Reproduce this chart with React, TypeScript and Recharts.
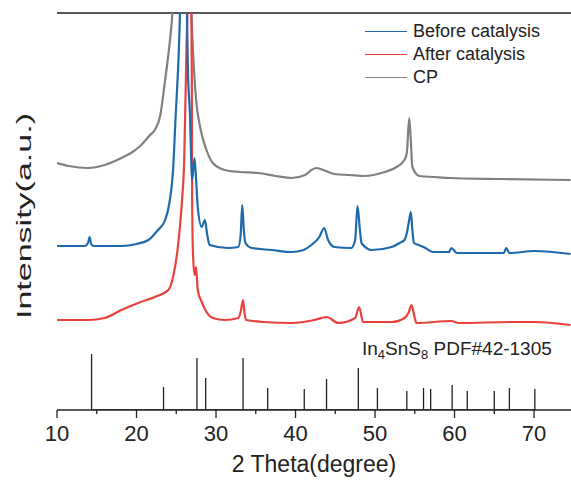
import { Legend, Line, LineChart, ReferenceLine, XAxis, YAxis } from "recharts";

// [2theta, intensity], intensity in a.u. (stacked offsets included)
const cpPattern: [number, number][] = [
  [10, 247], [11.5, 244], [13.9, 242], [16.0, 245], [18.1, 252], [19.5, 258],
  [20.6, 265], [21.7, 275], [22.3, 280], [23.0, 295], [23.6, 330], [24.0, 355],
  [24.3, 377], [24.5, 397], [24.6, 440], [26.8, 440], [26.9, 400], [27.1, 360],
  [27.5, 310], [28.0, 283], [28.8, 260], [29.6, 247], [31.1, 240], [33.0, 238],
  [35.3, 237], [37.5, 234], [39.5, 232], [41.2, 235], [42.0, 240], [42.6, 242],
  [43.5, 240], [44.9, 236], [46.8, 235], [48.7, 234], [51.2, 238], [52.5, 242],
  [53.7, 250], [54.0, 257], [54.3, 292], [54.5, 270], [54.7, 243], [55.6, 234],
  [57.5, 233], [59.4, 232], [65.7, 231], [74.6, 230],
];

const beforePattern: [number, number][] = [
  [10, 164], [13.5, 164], [13.9, 167], [14.1, 173], [14.3, 166], [14.6, 164],
  [18.1, 164], [20.0, 166], [21.5, 170], [22.7, 180], [23.6, 190], [24.2, 210],
  [24.6, 240], [24.9, 290], [25.4, 377], [25.6, 440], [26.2, 440], [26.5, 330],
  [26.7, 300], [27.0, 230], [27.3, 252], [27.5, 230], [27.7, 203], [28.2, 183],
  [28.6, 190], [28.9, 175], [29.2, 165], [31.5, 162], [32.8, 163], [33.1, 175],
  [33.3, 205], [33.5, 180], [33.7, 167], [34.5, 162], [37.0, 160], [39.5, 158],
  [41.0, 160], [42.0, 165], [43.0, 173], [43.6, 182], [44.1, 170], [44.9, 163],
  [47.0, 162], [47.5, 170], [47.8, 204], [48.1, 180], [48.3, 167], [49.6, 160],
  [52.1, 163], [53.1, 167], [53.7, 170], [54.0, 177], [54.3, 190], [54.5, 198],
  [54.7, 180], [54.9, 167], [55.5, 165], [56.1, 163], [57.3, 158], [59.3, 158],
  [59.6, 162], [60.3, 157], [66.2, 157], [66.5, 162], [66.9, 157], [70.1, 159],
  [74.6, 156],
];

const afterPattern: [number, number][] = [
  [10, 90], [13.9, 90], [16.0, 92], [18.1, 100], [20.2, 107], [22.3, 113],
  [24.0, 120], [24.6, 133], [25.2, 163], [25.7, 207], [26.0, 250], [26.3, 367],
  [26.4, 397], [26.5, 440], [26.8, 440], [26.95, 343], [27.0, 210], [27.1, 157],
  [27.3, 135], [27.5, 143], [27.7, 120], [28.2, 108], [28.8, 98], [29.6, 92],
  [31.1, 90], [32.8, 92], [33.1, 98], [33.4, 110], [33.6, 96], [33.8, 90],
  [36.0, 88], [39.5, 87], [42.4, 90], [43.9, 93], [45.4, 87], [47.5, 92],
  [48.0, 103], [48.5, 88], [52.1, 88], [53.7, 92], [54.2, 97], [54.6, 105],
  [55.0, 92], [55.2, 87], [59.6, 89], [60.5, 87], [67.2, 88], [70.1, 88],
  [74.6, 85],
];

// In4SnS8 PDF#42-1305 reference lines
const pdfPeaks: [number, number][] = [
  [14.35, 56], [23.4, 23], [27.6, 52], [28.7, 32], [33.4, 52], [36.5, 22],
  [41.1, 21], [43.9, 31], [47.9, 42], [50.3, 22], [54.0, 19], [56.1, 22],
  [57.0, 21], [59.7, 25], [61.6, 19], [65.0, 19], [66.9, 22], [70.1, 21],
];

const xTicks = [10, 15, 20, 25, 30, 35, 40, 45, 50, 55, 60, 65, 70];
const yMax = 397;

const series = [
  { name: "Before catalysis", color: "#1f6aad", points: beforePattern },
  { name: "After catalysis", color: "#e8423f", points: afterPattern },
  { name: "CP", color: "#808080", points: cpPattern },
];

const FONT = '"Liberation Sans", Arial, sans-serif';
const AXIS = "#222";

const toRows = (pts: [number, number][]) => pts.map(([x, y]) => ({ x, y }));

// sticks: up and back down at each position, baseline sits on the axis
const stickRows = pdfPeaks.flatMap(([x, h]) => [
  { x, y: 0 },
  { x, y: h },
  { x, y: 0 },
]);

const AngleTick = (props: any) => {
  const { x, y, payload } = props;
  const major = payload.value % 10 === 0;
  return (
    <g>
      <line x1={x} x2={x} y1={y} y2={y + (major ? 8 : 4)} stroke={AXIS} strokeWidth={1.3} />
      {major && (
        <text x={x} y={y + 31} textAnchor="middle" fontSize={22} fontFamily={FONT} fill={AXIS}>
          {payload.value}
        </text>
      )}
    </g>
  );
};

const LegendBox = () => (
  <div style={{ fontFamily: FONT, fontSize: 18, color: AXIS }}>
    {series.map((s) => (
      <div key={s.name} style={{ display: "flex", alignItems: "center", height: 23 }}>
        <span
          style={{
            display: "inline-block",
            width: 42,
            borderTop: `1.5px solid ${s.color}`,
            marginRight: 6,
          }}
        />
        <span>{s.name}</span>
      </div>
    ))}
  </div>
);

export default function App() {
  return (
    <div style={{ position: "absolute", left: 0, top: 0, width: 571, height: 483 }}>
      <LineChart width={571} height={483} margin={{ top: 13, right: 0, left: 57, bottom: 3 }}>
        <XAxis
          xAxisId="main"
          dataKey="x"
          type="number"
          domain={[10, 74.65]}
          allowDataOverflow
          ticks={xTicks}
          tick={<AngleTick />}
          tickLine={false}
          tickSize={0}
          tickMargin={0}
          height={70}
          axisLine={{ stroke: AXIS, strokeWidth: 1.3 }}
          label={{
            value: "2 Theta(degree)",
            position: "insideBottom",
            offset: 8,
            style: { fontSize: 23, fontFamily: FONT, fill: AXIS },
          }}
        />
        <YAxis
          type="number"
          domain={[0, yMax]}
          allowDataOverflow
          width={0}
          tick={false}
          tickLine={false}
          axisLine={{ stroke: AXIS, strokeWidth: 1.3 }}
        />
        <ReferenceLine xAxisId="main" y={yMax} stroke={AXIS} strokeWidth={1.5} />
        <Legend
          layout="vertical"
          verticalAlign="middle"
          align="center"
          content={<LegendBox />}
          wrapperStyle={{ top: 20, left: 365, width: "auto", height: "auto" }}
        />
        <Line
          xAxisId="main"
          data={stickRows}
          dataKey="y"
          type="linear"
          stroke={AXIS}
          strokeWidth={1.3}
          dot={false}
          isAnimationActive={false}
          legendType="none"
        />
        {[...series].reverse().map((s) => (
          <Line
            key={s.name}
            xAxisId="main"
            data={toRows(s.points)}
            dataKey="y"
            name={s.name}
            type="monotone"
            stroke={s.color}
            strokeWidth={2.2}
            dot={false}
            isAnimationActive={false}
          />
        ))}
      </LineChart>
      <svg
        width={50}
        height={483}
        style={{ position: "absolute", left: 0, top: 0, pointerEvents: "none" }}
      >
        <text
          x={23}
          y={216}
          transform="rotate(-90, 23, 216)"
          textAnchor="middle"
          dominantBaseline="central"
          fontSize={21}
          fontFamily={FONT}
          fill={AXIS}
          textLength={206}
          lengthAdjust="spacingAndGlyphs"
        >
          Intensity(a.u.)
        </text>
      </svg>
      <div
        style={{
          position: "absolute",
          left: 362,
          top: 339,
          fontFamily: FONT,
          fontSize: 19,
          lineHeight: "19px",
          color: AXIS,
          whiteSpace: "nowrap",
        }}
      >
        In<sub style={{ fontSize: 13, verticalAlign: -4, lineHeight: 0 }}>4</sub>SnS
        <sub style={{ fontSize: 13, verticalAlign: -4, lineHeight: 0 }}>8</sub> PDF#42-1305
      </div>
    </div>
  );
}
